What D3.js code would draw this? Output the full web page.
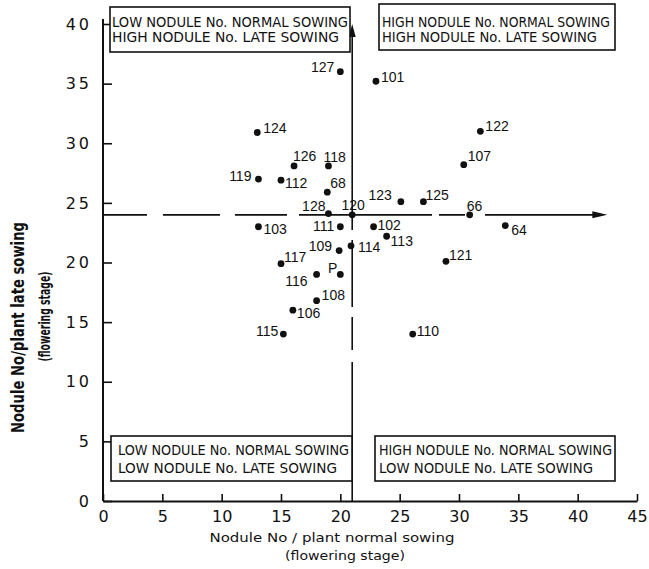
<!DOCTYPE html>
<html><head><meta charset="utf-8">
<script src="https://cdn.jsdelivr.net/npm/d3@7"></script>
<style>body{margin:0;background:#fff} svg{display:block}</style>
</head><body><svg id="c" width="649" height="569"></svg>
<script>
// ---- data ----
const xTickValues = [0, 5, 10, 15, 20, 25, 30, 35, 40, 45];
const yTickValues = [0, 5, 10, 15, 20, 25, 30, 35, 40];
const genotypes    = ["127","101","124","122","126","118","107","119","112","68","123","125","128","120","66","103","111","102","64","113","114","109","117","121","116","P","108","106","115","110"];
const normalSowing = [20, 23, 13, 31.8, 16.1, 19, 30.4, 13.1, 15, 18.9, 25.1, 27, 19, 21, 30.9, 13.1, 20, 22.8, 33.9, 23.9, 20.9, 19.9, 15, 28.9, 18, 20, 18, 16, 15.2, 26.1];
const lateSowing   = [36, 35.2, 30.9, 31, 28.1, 28.1, 28.2, 27, 26.9, 25.9, 25.1, 25.1, 24.1, 24, 24, 23, 23, 23, 23.1, 22.2, 21.4, 21, 19.9, 20.1, 19, 19, 16.8, 16, 14, 14];
const normalMean = 21;
const lateMean = 24;
const quadrantLines = [
  ["LOW NODULE No. NORMAL SOWING", "HIGH NODULE No. LATE SOWING"],
  ["HIGH NODULE No. NORMAL SOWING", "HIGH NODULE No. LATE SOWING"],
  ["LOW NODULE No. NORMAL SOWING", "LOW NODULE No. LATE SOWING"],
  ["HIGH NODULE No. NORMAL SOWING", "LOW NODULE No. LATE SOWING"]
];
const xTitle = ["Nodule No / plant  normal sowing", "(flowering stage)"];
const yTitle = ["Nodule No/plant late sowing", "(flowering stage)"];

// ---- layout ----
const labelPlace = {
  "127":["end",-6,0], "101":["start",5,1], "124":["start",6,0], "122":["start",5,0],
  "126":["start",-1,-5], "118":["start",-5,-4], "107":["start",4,-4], "119":["end",-7,2],
  "112":["start",4,8], "68":["start",3,-4], "123":["end",-9,-2], "125":["start",2,-2],
  "128":["end",-3,-3], "120":["middle",1,-5], "66":["start",-3,-4], "103":["start",5,7],
  "111":["end",-6,4], "102":["start",4,3], "64":["start",6,9], "113":["start",4,10],
  "114":["start",7,6], "109":["end",-7,0], "117":["start",3,-2], "121":["start",3,-1],
  "116":["end",-9,12], "P":["end",-3,-1], "108":["start",5,-1], "106":["start",4,8],
  "115":["end",-5,2], "110":["start",4,2]
};
const boxes = [
  {x0:110, y0:7,   x1:350, y1:52,  tx:112, b1:27,  b2:42,  w1:236, w2:227},
  {x0:379, y0:4,   x1:615, y1:50,  tx:382, b1:26.5,b2:41.5,w1:228, w2:215},
  {x0:111, y0:436, x1:352, y1:481, tx:118, b1:455, b2:473, w1:231, w2:219},
  {x0:375, y0:436, x1:615, y1:481, tx:379, b1:455, b2:473, w1:233, w2:214}
];

const svg = d3.select("#c");
const x = d3.scaleLinear().domain([0, 45]).range([103, 637]);
const y = d3.scaleLinear().domain([0, 40]).range([501, 24]);
const ink = "#111";

// axes
const gx = svg.append("g").attr("transform", `translate(0,${y(0)})`)
  .call(d3.axisBottom(x).tickValues(xTickValues).tickSize(-7).tickPadding(9).tickSizeOuter(0));
gx.select(".domain").attr("stroke", ink).attr("stroke-width", 2);
gx.selectAll(".tick line").attr("stroke", ink).attr("stroke-width", 1.6);
gx.selectAll(".tick text").attr("font-family", "DejaVu Sans").attr("font-size", 16).attr("fill", ink).attr("dy", "0.75em");

const gy = svg.append("g").attr("transform", `translate(${x(0)},0)`)
  .call(d3.axisLeft(y).tickValues(yTickValues).tickSize(-9).tickPadding(10).tickSizeOuter(0));
gy.select(".domain").attr("stroke", ink).attr("stroke-width", 2)
  .attr("d", `M0,${y(0)}V${y(40) - 5}`);
gy.selectAll(".tick line").attr("stroke", ink).attr("stroke-width", 1.6);
gy.selectAll(".tick text").attr("font-family", "DejaVu Sans").attr("font-size", 16).attr("fill", ink)
  .attr("letter-spacing", 3).attr("dx", -1);

// mean lines
svg.append("line").attr("x1", x(normalMean)).attr("x2", x(normalMean))
  .attr("y1", y(40) + 10).attr("y2", y(0))
  .attr("stroke", ink).attr("stroke-width", 1.6)
  .attr("stroke-dasharray", "179,5,12,10,67,10,33,12,400");
svg.append("path")
  .attr("d", `M${x(normalMean)},${y(40)}l-3.5,13h7z`).attr("fill", ink);

const hEnd = x(42.5);
svg.append("line").attr("x1", x(0)).attr("x2", hEnd - 10)
  .attr("y1", y(lateMean)).attr("y2", y(lateMean))
  .attr("stroke", ink).attr("stroke-width", 1.8)
  .attr("stroke-dasharray", "44,16,57,15,52,12,133,7,26,20,400");
svg.append("path")
  .attr("d", `M${hEnd},${y(lateMean)}l-15,-3.5v7z`).attr("fill", ink);

// points
const pts = genotypes.map((g, i) => ({g, nx: normalSowing[i], ly: lateSowing[i]}));
svg.append("g").selectAll("circle").data(pts).join("circle")
  .attr("cx", d => x(d.nx)).attr("cy", d => y(d.ly)).attr("r", 3.4).attr("fill", ink);
svg.append("g").selectAll("text").data(pts).join("text")
  .attr("x", d => x(d.nx) + labelPlace[d.g][1])
  .attr("y", d => y(d.ly) + labelPlace[d.g][2])
  .attr("text-anchor", d => labelPlace[d.g][0])
  .attr("font-family", "Liberation Sans, Arial, sans-serif").attr("font-size", 14)
  .attr("fill", ink).text(d => d.g);

// quadrant boxes
boxes.forEach((b, i) => {
  svg.append("rect").attr("x", b.x0).attr("y", b.y0)
    .attr("width", b.x1 - b.x0).attr("height", b.y1 - b.y0)
    .attr("fill", "#fff").attr("stroke", ink).attr("stroke-width", 1.6);
  [[quadrantLines[i][0], b.b1, b.w1], [quadrantLines[i][1], b.b2, b.w2]].forEach(([t, bl, w]) => {
    svg.append("text").attr("x", b.tx).attr("y", bl)
      .attr("font-family", "DejaVu Sans").attr("font-size", 13.5).attr("fill", ink)
      .attr("textLength", w).attr("lengthAdjust", "spacingAndGlyphs").text(t);
  });
});

// axis titles
svg.append("text").attr("x", 332).attr("y", 542).attr("text-anchor", "middle")
  .attr("font-family", "DejaVu Sans").attr("font-size", 12.5).attr("fill", ink)
  .attr("textLength", 245).attr("lengthAdjust", "spacingAndGlyphs").text(xTitle[0]);
svg.append("text").attr("x", 345).attr("y", 560).attr("text-anchor", "middle")
  .attr("font-family", "DejaVu Sans").attr("font-size", 12.5).attr("fill", ink)
  .attr("textLength", 120).attr("lengthAdjust", "spacingAndGlyphs").text(xTitle[1]);

svg.append("text").attr("transform", "translate(24,327.5) rotate(-90)").attr("text-anchor", "middle")
  .attr("font-family", "DejaVu Sans").attr("font-weight", "bold").attr("font-size", 18).attr("fill", ink)
  .attr("textLength", 211).attr("lengthAdjust", "spacingAndGlyphs").text(yTitle[0]);
svg.append("text").attr("transform", "translate(50,316.5) rotate(-90)").attr("text-anchor", "middle")
  .attr("font-family", "DejaVu Sans").attr("font-weight", "bold").attr("font-size", 15).attr("fill", ink)
  .attr("textLength", 90).attr("lengthAdjust", "spacingAndGlyphs").text(yTitle[1]);
</script></body></html>
